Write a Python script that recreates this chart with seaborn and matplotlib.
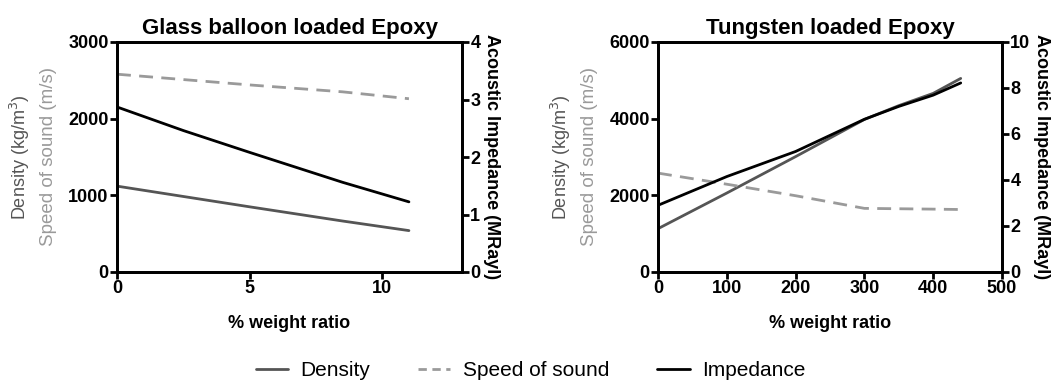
import matplotlib
matplotlib.use("Agg")
import matplotlib.pyplot as plt
import seaborn as sns
from matplotlib.lines import Line2D

# ---- data ----
glass_x = [0, 2.5, 5, 8.5, 11]
glass_density = [1120, 985, 850, 665, 540]
glass_speed = [2580, 2510, 2440, 2350, 2260]
glass_impedance = [2.87, 2.46, 2.08, 1.56, 1.22]

tung_x = [0, 100, 200, 300, 350, 400, 440]
tung_density = [1130, 2060, 3010, 3980, 4340, 4660, 5050]
tung_speed = [2580, 2290, 1990, 1660, 1650, 1640, 1630]
tung_impedance = [2.90, 4.15, 5.24, 6.64, 7.20, 7.69, 8.22]

titles = ["Glass balloon loaded Epoxy", "Tungsten loaded Epoxy"]
legend_labels = ["Density", "Speed of sound", "Impedance"]

sns.set_theme(style="ticks")
plt.rcParams['font.family'] = ['Liberation Sans', 'DejaVu Sans']
plt.rcParams['text.color'] = 'black'
plt.rcParams['axes.labelcolor'] = 'black'
plt.rcParams['xtick.color'] = 'black'
plt.rcParams['ytick.color'] = 'black'

C_DEN = "#555555"
C_SPD = "#9a9a9a"
C_IMP = "#000000"

fig = plt.figure(figsize=(10.61, 3.83), dpi=100)
W, H = 1061, 383

def make_axes(x0, x1):
    return fig.add_axes([x0 / W, 1 - 272 / H, (x1 - x0) / W, (272 - 42) / H])

panels = [
    dict(x0=117, x1=462, x=glass_x, den=glass_density, spd=glass_speed, imp=glass_impedance,
         xlim=(0, 13), xt=[0, 5, 10], ylim=(0, 3000), yt=[0, 1000, 2000, 3000],
         rlim=(0, 4), rt=[0, 1, 2, 3, 4]),
    dict(x0=658, x1=1002, x=tung_x, den=tung_density, spd=tung_speed, imp=tung_impedance,
         xlim=(0, 500), xt=[0, 100, 200, 300, 400, 500], ylim=(0, 6000), yt=[0, 2000, 4000, 6000],
         rlim=(0, 10), rt=[0, 2, 4, 6, 8, 10]),
]

for i, p in enumerate(panels):
    ax = make_axes(p["x0"], p["x1"])
    ax2 = ax.twinx()
    sns.lineplot(x=p["x"], y=p["den"], ax=ax, color=C_DEN, lw=2)
    sns.lineplot(x=p["x"], y=p["spd"], ax=ax, color=C_SPD, lw=2, linestyle=(0, (5, 3)))
    sns.lineplot(x=p["x"], y=p["imp"], ax=ax2, color=C_IMP, lw=2)
    ax.set_xlim(*p["xlim"]); ax.set_xticks(p["xt"])
    ax.set_ylim(*p["ylim"]); ax.set_yticks(p["yt"])
    ax2.set_ylim(*p["rlim"]); ax2.set_yticks(p["rt"])
    for a in (ax, ax2):
        for s in a.spines.values():
            s.set_linewidth(2)
            s.set_color("black")
        a.tick_params(width=2, length=5, direction="out", labelsize=13, color="black",
                      labelcolor="black", pad=1)
        for lab in a.get_xticklabels() + a.get_yticklabels():
            lab.set_fontweight("bold")
    ax.set_xlabel("% weight ratio", fontsize=13, fontweight="bold", labelpad=13)
    ax.set_ylabel("")
    ax2.set_ylabel("Acoustic Impedance (MRayl)", fontsize=13, fontweight="bold",
                   rotation=-90, labelpad=14)
    ax.set_title(titles[i], fontsize=16, fontweight="bold", pad=6)
    # two-colour left y label
    xc = (p["x0"] - 97) / W
    xs = (p["x0"] - 68) / W
    yc = 1 - 157 / H
    fig.text(xc, yc, "Density (kg/m$^3$)", rotation=90, ha="center", va="center",
             fontsize=13, color=C_DEN)
    fig.text(xs, yc, "Speed of sound (m/s)", rotation=90, ha="center", va="center",
             fontsize=13.5, color=C_SPD)

handles = [Line2D([], [], color=C_DEN, lw=2),
           Line2D([], [], color=C_SPD, lw=2, linestyle=(0, (3, 2))),
           Line2D([], [], color=C_IMP, lw=2)]
fig.legend(handles, legend_labels, loc="center", bbox_to_anchor=(0.5, 1 - 371 / H),
           ncol=3, frameon=False, fontsize=15, handlelength=1.55, columnspacing=2.3,
           handletextpad=0.6)

fig.savefig("out.png", dpi=100)
